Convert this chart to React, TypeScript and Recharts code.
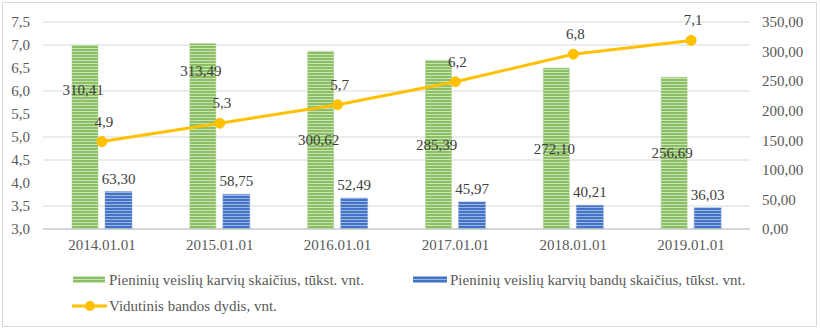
import React from "react";
import {
  ComposedChart,
  Bar,
  Line,
  XAxis,
  YAxis,
  CartesianGrid,
  LabelList,
} from "recharts";

const years = ["2014.01.01", "2015.01.01", "2016.01.01", "2017.01.01", "2018.01.01", "2019.01.01"];
const cows = [310.41, 313.49, 300.62, 285.39, 272.1, 256.69];
const herds = [63.3, 58.75, 52.49, 45.97, 40.21, 36.03];
const herdSize = [4.9, 5.3, 5.7, 6.2, 6.8, 7.1];
const leftTicks = [3, 3.5, 4, 4.5, 5, 5.5, 6, 6.5, 7, 7.5];
const rightTicks = [0, 50, 100, 150, 200, 250, 300, 350];

const COWS_NAME = "Pieninių veislių karvių skaičius, tūkst. vnt.";
const HERDS_NAME = "Pieninių veislių karvių bandų skaičius, tūkst. vnt.";
const SIZE_NAME = "Vidutinis bandos dydis, vnt.";

const LEFT_MIN = 3;
const LEFT_MAX = 7.5;
const RIGHT_MAX = 350;

const GREEN = "#8cbf64";
const GREEN_LINE = "#c9e3b5";
const BLUE = "#4472c4";
const BLUE_LINE = "#9cb6e4";
const GOLD = "#ffc000";
const TEXT = "#595959";
const LABEL = "#404040";
const FONT = "'Liberation Serif', 'Times New Roman', serif";

const data = years.map((year, i) => ({
  year,
  cows: cows[i],
  herds: herds[i],
  size: herdSize[i],
}));

const comma = (digits: number) => (v: any) => Number(v).toFixed(digits).replace(".", ",");

// green labels sit in the bar middle, unless the line runs through there;
// then they are lifted above the line's own label
function CowsLabel(props: any) {
  const { x, y, width, height, value, index } = props;
  const bottom = y + height;
  const plotH = (height / value) * RIGHT_MAX;
  const lineY = bottom - ((herdSize[index] - LEFT_MIN) / (LEFT_MAX - LEFT_MIN)) * plotH;
  const mid = y + height / 2;
  const ly = Math.abs(mid - lineY) < 30 ? lineY - 52 : mid;
  return (
    <text
      x={x + width / 2 - 2}
      y={ly}
      textAnchor="middle"
      dominantBaseline="central"
      fill={LABEL}
      fontSize={15}
      fontFamily={FONT}
    >
      {comma(2)(value)}
    </text>
  );
}

function SizeLabel(props: any) {
  const { x, y, value } = props;
  return (
    <text
      x={x + 2}
      y={y - 20}
      textAnchor="middle"
      dominantBaseline="central"
      fill={LABEL}
      fontSize={15}
      fontFamily={FONT}
    >
      {comma(1)(value)}
    </text>
  );
}

export default function App() {
  return (
    <div
      style={{
        position: "absolute",
        left: 0,
        top: 0,
        width: 820,
        height: 330,
        background: "#fff",
        fontFamily: FONT,
      }}
    >
      <div
        style={{
          position: "absolute",
          left: 2,
          top: 2,
          width: 813,
          height: 323,
          border: "1px solid #d9d9d9",
        }}
      />
      <div style={{ position: "absolute", left: 0, top: 0 }}>
        <ComposedChart
          width={820}
          height={265}
          data={data}
          margin={{ top: 22, right: 10, left: 0, bottom: 6 }}
          barGap={7}
        >
          <defs>
            <pattern id="greenStripes" width="4" height="3" patternUnits="userSpaceOnUse">
              <rect width="4" height="3" fill={GREEN} />
              <rect width="4" height="1" fill={GREEN_LINE} />
            </pattern>
            <pattern id="blueStripes" width="4" height="3" patternUnits="userSpaceOnUse">
              <rect width="4" height="3" fill={BLUE} />
              <rect width="4" height="1" fill={BLUE_LINE} />
            </pattern>
          </defs>
          <CartesianGrid vertical={false} stroke="#d9d9d9" yAxisId="left" />
          <XAxis
            dataKey="year"
            tickLine={false}
            stroke="#bfbfbf"
            tick={{ fill: TEXT, fontSize: 15, fontFamily: FONT }}
            tickMargin={4}
            height={30}
          />
          <YAxis
            yAxisId="left"
            domain={[LEFT_MIN, LEFT_MAX]}
            ticks={leftTicks}
            tickFormatter={comma(1)}
            axisLine={false}
            tickLine={false}
            width={43}
            tickMargin={7}
            tick={{ fill: TEXT, fontSize: 15, fontFamily: FONT }}
          />
          <YAxis
            yAxisId="right"
            orientation="right"
            domain={[0, RIGHT_MAX]}
            ticks={rightTicks}
            tickFormatter={comma(2)}
            axisLine={false}
            tickLine={false}
            width={60}
            tickMargin={6}
            tick={{ fill: TEXT, fontSize: 15, fontFamily: FONT }}
          />
          <Bar
            yAxisId="right"
            dataKey="cows"
            name={COWS_NAME}
            fill="url(#greenStripes)"
            stroke="#a9d18e"
            strokeWidth={0.5}
            barSize={26}
            isAnimationActive={false}
          >
            <LabelList dataKey="cows" content={<CowsLabel />} />
          </Bar>
          <Bar
            yAxisId="right"
            dataKey="herds"
            name={HERDS_NAME}
            fill="url(#blueStripes)"
            stroke="#8faadc"
            strokeWidth={0.5}
            barSize={27}
            isAnimationActive={false}
          >
            <LabelList
              dataKey="herds"
              position="top"
              offset={8}
              formatter={comma(2)}
              fill={LABEL}
              fontSize={15}
              fontFamily={FONT}
            />
          </Bar>
          <Line
            yAxisId="left"
            dataKey="size"
            name={SIZE_NAME}
            stroke={GOLD}
            strokeWidth={3}
            dot={{ r: 5, fill: GOLD, stroke: GOLD, strokeWidth: 1 }}
            isAnimationActive={false}
          >
            <LabelList dataKey="size" content={<SizeLabel />} />
          </Line>
        </ComposedChart>
      </div>
      <Legend />
    </div>
  );
}

function Legend() {
  const text: React.CSSProperties = {
    position: "absolute",
    fontSize: 15,
    color: TEXT,
    whiteSpace: "nowrap",
    lineHeight: "18px",
  };
  return (
    <>
      <svg style={{ position: "absolute", left: 0, top: 0 }} width={820} height={330}>
        <rect x={73} y={276} width={32} height={7} fill="url(#greenStripes)" />
        <rect x={413} y={276} width={34} height={7} fill="url(#blueStripes)" />
        <line x1={72} y1={306} x2={107} y2={306} stroke={GOLD} strokeWidth={3} />
        <circle cx={90} cy={306} r={5} fill={GOLD} />
      </svg>
      <div style={{ ...text, left: 109, top: 271 }}>{COWS_NAME}</div>
      <div style={{ ...text, left: 450, top: 271 }}>{HERDS_NAME}</div>
      <div style={{ ...text, left: 109, top: 297 }}>{SIZE_NAME}</div>
    </>
  );
}
